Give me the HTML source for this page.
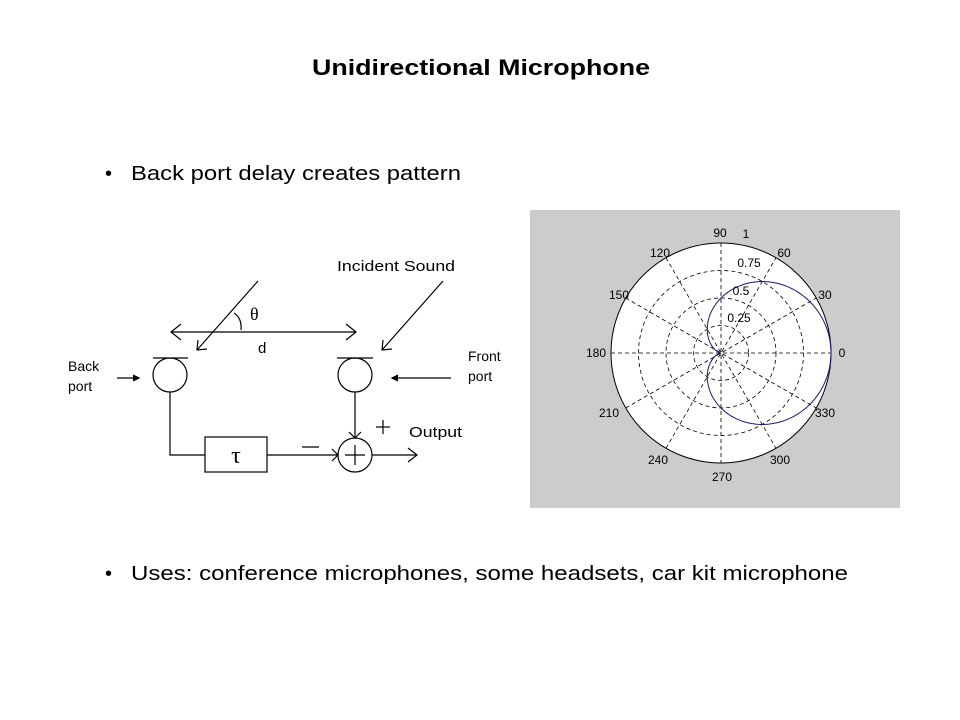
<!DOCTYPE html>
<html><head><meta charset="utf-8"><style>
html,body{margin:0;padding:0;background:#fff;}
svg{display:block;font-family:"Liberation Sans",Arial,sans-serif;}
</style></head><body>
<svg width="960" height="720" viewBox="0 0 960 720" xmlns="http://www.w3.org/2000/svg">
<rect width="960" height="720" fill="#fff"/>
<text x="481" y="75" font-size="22" font-weight="bold" text-anchor="middle" textLength="338" lengthAdjust="spacingAndGlyphs">Unidirectional Microphone</text>
<text x="105" y="180" font-size="20">•</text>
<text x="131" y="180" font-size="20" textLength="330" lengthAdjust="spacingAndGlyphs">Back port delay creates pattern</text>
<text x="105" y="580" font-size="20">•</text>
<text x="131" y="580" font-size="20" textLength="717" lengthAdjust="spacingAndGlyphs">Uses: conference microphones, some headsets, car kit microphone</text>

<g stroke="#000" stroke-width="1.2" fill="none">
  <line x1="171" y1="332" x2="356" y2="332"/>
  <polyline points="181,324 171,332 181,340"/>
  <polyline points="346,324 356,332 346,340"/>
  <line x1="258" y1="281" x2="197" y2="350"/>
  <polyline points="198,340 197,350 207,349"/>
  <line x1="443" y1="281" x2="382" y2="350"/>
  <polyline points="383,340 382,350 392,349"/>
  <path d="M234,313 Q242,318 241,330"/>
  <line x1="153" y1="358" x2="188" y2="358"/>
  <circle cx="170" cy="375" r="17"/>
  <line x1="337" y1="358" x2="373" y2="358"/>
  <circle cx="355" cy="375" r="17"/>
  <line x1="117" y1="378" x2="139" y2="378"/>
  <polyline points="133,375 139,378 133,381" fill="#000"/>
  <line x1="451" y1="378" x2="392" y2="378"/>
  <polyline points="398,375 392,378 398,381" fill="#000"/>
  <polyline points="170,392 170,455 205,455"/>
  <rect x="205" y="437" width="62" height="35"/>
  <line x1="267" y1="455" x2="338" y2="455"/>
  <polyline points="332,449 338,455 332,461"/>
  <line x1="355" y1="392" x2="355" y2="438"/>
  <polyline points="349,432 355,438 361,432"/>
  <circle cx="355" cy="455" r="17"/>
  <line x1="345" y1="455" x2="365" y2="455"/>
  <line x1="355" y1="445" x2="355" y2="465"/>
  <line x1="372" y1="455" x2="417" y2="455"/>
  <polyline points="408,448 417,455 408,462"/>
  <line x1="302" y1="447" x2="319" y2="447"/>
  <line x1="376" y1="427" x2="390" y2="427"/>
  <line x1="383" y1="420" x2="383" y2="434"/>
</g>
<g font-size="15" fill="#000">
  <text x="337" y="271" textLength="118" lengthAdjust="spacingAndGlyphs">Incident Sound</text>
  <text x="250" y="320" font-family="'Liberation Serif',serif" font-size="18">θ</text>
  <text x="258" y="353">d</text>
  <text x="409" y="437" textLength="53" lengthAdjust="spacingAndGlyphs">Output</text>
</g>
<g font-size="14" fill="#000">
  <text x="68" y="371">Back</text>
  <text x="68" y="391">port</text>
  <text x="468" y="361">Front</text>
  <text x="468" y="381">port</text>
</g>
<text x="236" y="463" font-size="24" text-anchor="middle" font-family="'Liberation Serif',serif">τ</text>

<rect x="530" y="210" width="370" height="298" fill="#cccccc"/>
<circle cx="721" cy="353" r="110" fill="#fff" stroke="#000" stroke-width="1"/>
<g stroke="#000" stroke-width="0.8" fill="none" stroke-dasharray="4,3">
  <circle cx="721" cy="353" r="27.5"/>
  <circle cx="721" cy="353" r="55"/>
  <circle cx="721" cy="353" r="82.5"/>
  <line x1="611" y1="353" x2="831" y2="353"/>
  <line x1="721" y1="243" x2="721" y2="463"/>
  <line x1="625.7" y1="298" x2="816.3" y2="408"/>
  <line x1="625.7" y1="408" x2="816.3" y2="298"/>
  <line x1="666" y1="257.7" x2="776" y2="448.3"/>
  <line x1="666" y1="448.3" x2="776" y2="257.7"/>
</g>
<polyline id="card" fill="none" stroke="#1a1a6e" stroke-width="1" points="
831,353 825.4,325 809.9,301.7 787.4,286.6 762.3,281.6 738.9,286.1 721,298 710.4,313.6 707.3,329.2 709.6,341.6 714.6,349.3 719.2,352.5 721,353
719.2,353.5 714.6,356.7 709.6,364.4 707.3,376.8 710.4,392.4 721,408 738.9,419.9 762.3,424.4 787.4,419.4 809.9,404.3 825.4,381 831,353"/>
<script>
(function(){var p=[];for(var i=0;i<=360;i+=2){var a=i*Math.PI/180,r=55*(1+Math.cos(a));p.push((721+r*Math.cos(a)).toFixed(2)+','+(353-r*Math.sin(a)).toFixed(2));}
document.getElementById('card').setAttribute('points',p.join(' '));})();
</script>
<g font-size="12" fill="#000" text-anchor="middle">
  <text x="720" y="237">90</text>
  <text x="660" y="257">120</text>
  <text x="784" y="257">60</text>
  <text x="619" y="299">150</text>
  <text x="825" y="299">30</text>
  <text x="596" y="357">180</text>
  <text x="842" y="357">0</text>
  <text x="609" y="417">210</text>
  <text x="825" y="417">330</text>
  <text x="658" y="464">240</text>
  <text x="780" y="464">300</text>
  <text x="722" y="481">270</text>
  <text x="746" y="238">1</text>
  <text x="749" y="267">0.75</text>
  <text x="741" y="295">0.5</text>
  <text x="739" y="322">0.25</text>
</g>
</svg>
</body></html>
